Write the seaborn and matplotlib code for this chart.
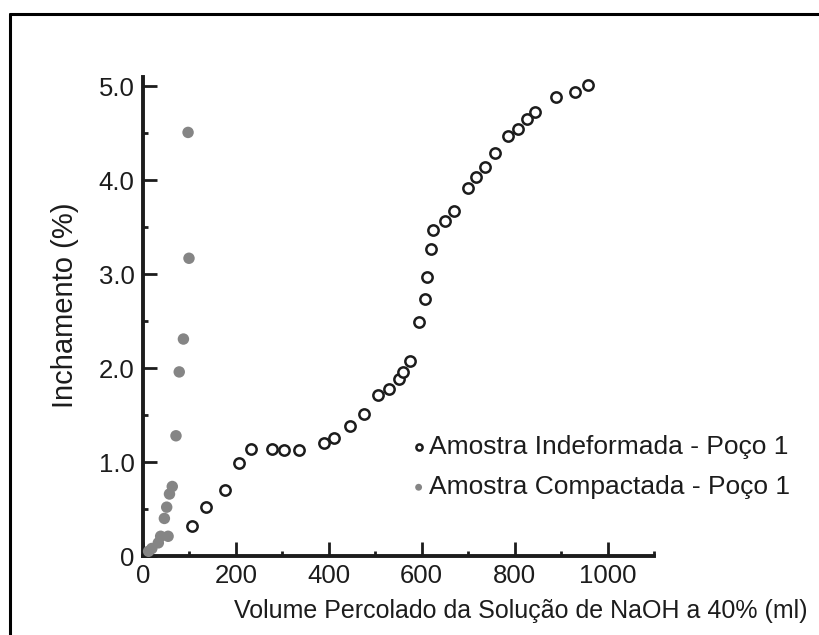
import numpy as np
import pandas as pd
import matplotlib
matplotlib.use("Agg")
import matplotlib.pyplot as plt
from matplotlib.lines import Line2D
from matplotlib.ticker import MultipleLocator, FixedLocator
import seaborn as sns

# Swelling vs percolated NaOH volume, two samples from well 1
vol_indeformada = [106, 136, 176, 207, 232, 277, 304, 335, 389, 411, 445, 475,
                   505, 529, 551, 560, 574, 594, 608, 612, 619, 624, 650, 670,
                   699, 717, 737, 757, 786, 807, 826, 844, 890, 929, 958]
inch_indeformada = [0.32, 0.52, 0.70, 0.99, 1.14, 1.14, 1.13, 1.13, 1.20, 1.26,
                    1.38, 1.51, 1.71, 1.78, 1.88, 1.96, 2.08, 2.49, 2.74, 2.97,
                    3.27, 3.47, 3.57, 3.67, 3.92, 4.03, 4.14, 4.29, 4.47, 4.55,
                    4.65, 4.73, 4.89, 4.94, 5.01]

vol_compactada = [12, 19, 33, 38, 54, 46, 51, 57, 63, 71, 78, 87, 99, 97]
inch_compactada = [0.05, 0.08, 0.14, 0.21, 0.21, 0.40, 0.52, 0.66, 0.74, 1.28,
                   1.96, 2.31, 3.17, 4.51]

label_indeformada = "Amostra Indeformada - Poço 1"
label_compactada = "Amostra Compactada - Poço 1"
x_label = "Volume Percolado da Solução de NaOH a 40% (ml)"
y_label = "Inchamento (%)"
x_ticks = [0, 200, 400, 600, 800, 1000]
y_ticks = [0, 1, 2, 3, 4, 5]
y_ticklabels = ["0", "1.0", "2.0", "3.0", "4.0", "5.0"]

sns.set_theme(style="ticks")
plt.rcParams["font.family"] = ["Liberation Sans", "DejaVu Sans"]
ink = "#1c1c1c"
plt.rcParams["text.color"] = ink
plt.rcParams["axes.labelcolor"] = ink
plt.rcParams["xtick.color"] = ink
plt.rcParams["ytick.color"] = ink

df_ind = pd.DataFrame({"vol": vol_indeformada, "inch": inch_indeformada})
df_cmp = pd.DataFrame({"vol": vol_compactada, "inch": inch_compactada})

W, H = 820, 635
L, R, T, B = 143, 654, 77, 556  # axes box in pixels

fig = plt.figure(figsize=(W / 100, H / 100), dpi=100)
ax = fig.add_axes([L / W, 1 - B / H, (R - L) / W, (B - T) / H])

sns.scatterplot(data=df_ind, x="vol", y="inch", ax=ax, s=55, marker="o",
                facecolor="white", edgecolor=ink, linewidth=1.8,
                label=label_indeformada, zorder=3, clip_on=False)
sns.scatterplot(data=df_cmp, x="vol", y="inch", ax=ax, s=68, marker="o",
                color="#858585", edgecolor="none", linewidth=0,
                label=label_compactada, zorder=3, clip_on=False)

ax.set_xlim(0, 1100)
ax.set_ylim(0, 5.1)

ax.xaxis.set_major_locator(FixedLocator(x_ticks))
ax.xaxis.set_minor_locator(MultipleLocator(100))
ax.yaxis.set_major_locator(FixedLocator(y_ticks))
ax.yaxis.set_minor_locator(MultipleLocator(0.5))
ax.set_xticklabels([str(v) for v in x_ticks])
ax.set_yticklabels(y_ticklabels)

ax.tick_params(which="major", direction="in", length=10, width=2.0,
               labelsize=18.5, pad=6)
ax.tick_params(which="minor", direction="in", length=3.5, width=2.0)

for side in ("top", "right"):
    ax.spines[side].set_visible(False)
for side in ("left", "bottom"):
    ax.spines[side].set_linewidth(2.8)
    ax.spines[side].set_color(ink)

ax.set_xlabel(x_label, fontsize=18)
ax.set_ylabel(y_label, fontsize=21)
ax.xaxis.set_label_coords((521 - L) / (R - L), -(599 - B) / (B - T))
ax.yaxis.set_label_coords(-(L - 79) / (R - L), (B - 305) / (B - T))

handles, labels = ax.get_legend_handles_labels()
leg = ax.legend(handles, labels, loc="center left",
                bbox_to_anchor=(414 / W, 1 - 467 / H),
                bbox_transform=fig.transFigure,
                frameon=False, fontsize=19, markerscale=0.6,
                handlelength=0.35, handletextpad=0.2, labelspacing=0.62,
                borderaxespad=0, borderpad=0)

# outer frame around the figure (left and top edges)
fig.add_artist(Line2D([10.5 / W, 10.5 / W], [0, 1 - 14 / H],
                      transform=fig.transFigure, color="black", lw=2.2))
fig.add_artist(Line2D([10.5 / W, 1], [1 - 14 / H, 1 - 14 / H],
                      transform=fig.transFigure, color="black", lw=2.2))

fig.savefig("out.png", dpi=100, facecolor="white")
